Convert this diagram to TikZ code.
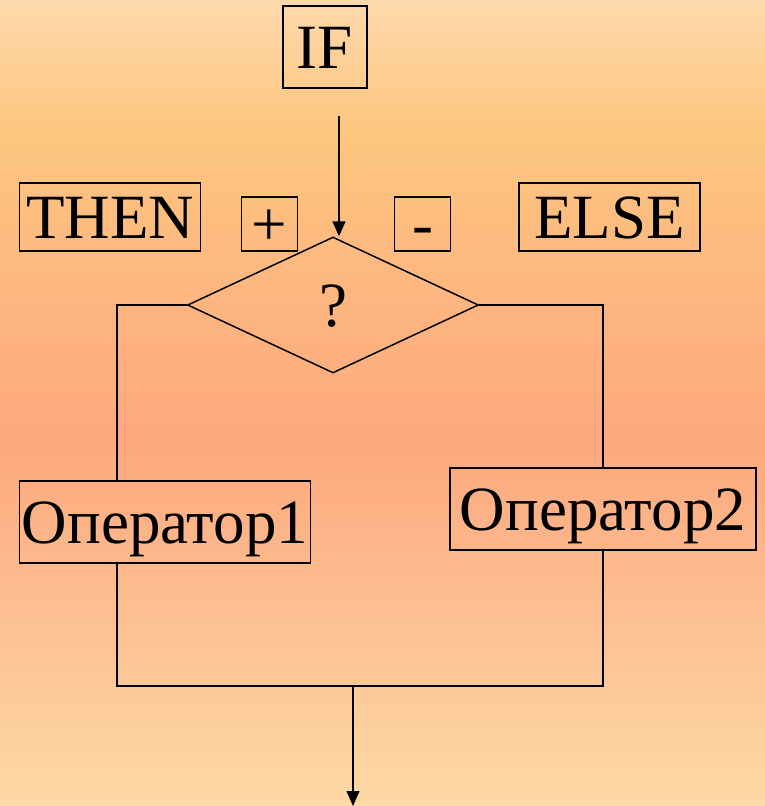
\documentclass[tikz,border=0pt]{standalone}
\usepackage{fontspec}
\setmainfont{Liberation Serif}
\usepackage{tikz}
\usetikzlibrary{arrows.meta, positioning, shapes.geometric, calc}
\definecolor{bgtop}{RGB}{253,217,172}
\definecolor{bgorange}{RGB}{253,198,128}
\definecolor{bgsalmon}{RGB}{253,168,126}
\definecolor{bgbottom}{RGB}{253,217,166}

\begin{document}
\begin{tikzpicture}[x=1pt, y=-1pt, line width=1.5pt,
        every node/.style={font=\fontsize{63}{63}\selectfont, inner sep=0pt, text height=43pt, text depth=0pt},
        kwbox/.style={draw, minimum height=68pt},
        signbox/.style={draw, minimum width=56pt, minimum height=54pt},
        opbox/.style={draw, minimum height=82pt},
        decision/.style={diamond, draw, minimum width=291pt, minimum height=136pt},
        arr/.style={-{Triangle[length=15pt, width=13pt]}}]
            % background
            \useasboundingbox (0,0) rectangle (765,806);
            \shade[top color=bgtop, bottom color=bgorange] (0,0) rectangle (765,131);
            \shade[top color=bgorange, bottom color=bgsalmon] (0,130) rectangle (765,441);
            \shade[top color=bgsalmon, bottom color=bgbottom] (0,440) rectangle (765,806);

            \node[kwbox, minimum width=84pt, minimum height=82pt] (if) at (325,47) {IF};
            \node[kwbox, minimum width=181pt] (then) at (110,217) {THEN};
            \node[signbox] (plus) at (269.5,224) {+};
            \node[signbox] (minus) at (422.5,224) {-};
            \node[kwbox, minimum width=181pt] (else) at (609.5,217) {ELSE};
            \node[decision] (cond) at (333,305) {?};
            \node[opbox, minimum width=291pt] (op1) at (165,522) {Оператор1};
            \node[opbox, minimum width=306pt] (op2) at (603,509) {Оператор2};

            \coordinate (ifout) at (339,116);
            \coordinate (out) at (353,806);
            \draw[arr] (ifout) -- (ifout |- cond.north);
            \draw (cond.west) -| ([xshift=-48pt]op1.north);
            \draw (cond.east) -| (op2.north);
            \draw ([xshift=-48pt]op1.south) -- ++(0,122) coordinate (join) -| (op2.south);
            \draw[arr] (join -| out) -- (out);
        \end{tikzpicture}
\end{document}
